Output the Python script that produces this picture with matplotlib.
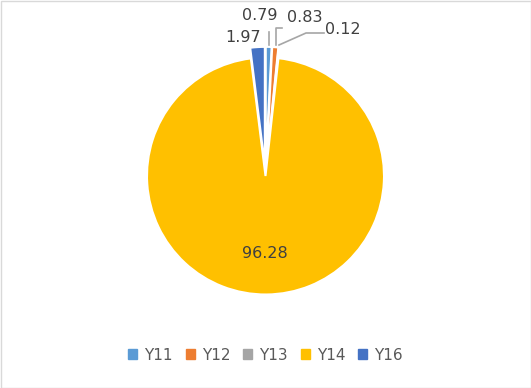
import matplotlib.pyplot as plt
from matplotlib.patches import Rectangle
import numpy as np

categories = ["Y11", "Y12", "Y13", "Y14", "Y16"]
values = [0.79, 0.83, 0.12, 96.28, 1.97]
colors = ["#5B9BD5", "#ED7D31", "#A5A5A5", "#FFC000", "#4472C4"]
explode = [0.09, 0.09, 0.09, 0.0, 0.09]

W, H = 531, 388
CX, CY, R = 265.5, H - 176, 118.5

fig = plt.figure(figsize=(W / 100, H / 100), dpi=100)
fig.patch.set_facecolor("white")
ax = fig.add_axes([0, 0, 1, 1])

# matplotlib's explode is in data units, so scale by the radius
wedges, _ = ax.pie(values, colors=colors, startangle=90, counterclock=False,
                   center=(CX, CY), radius=R, explode=[e * R for e in explode],
                   wedgeprops=dict(edgecolor="white", linewidth=1.5),
                   frame=True)
ax.set_xlim(0, W)
ax.set_ylim(0, H)
ax.axis("off")

lbl_color = "#404040"
fs = 11.5

# big slice label inside
ax.text(265, H - 253, f"{values[3]:.2f}", color=lbl_color, fontsize=fs,
        ha="center", va="center")
# Y16 label, no leader
ax.text(243, H - 37, f"{values[4]:.2f}", color=lbl_color, fontsize=fs,
        ha="center", va="center")

# small slices with leader lines (pixel coords, y from top)
lead = "#A6A6A6"
ax.text(260, H - 16, f"{values[0]:.2f}", color=lbl_color, fontsize=fs,
        ha="center", va="center")
ax.plot([269, 269], [H - 32, H - 45], color=lead, lw=1.2)

ax.text(305, H - 17, f"{values[1]:.2f}", color=lbl_color, fontsize=fs,
        ha="center", va="center")
ax.plot([282, 276, 276], [H - 28, H - 28, H - 45], color=lead, lw=1.2)

ax.text(343, H - 30, f"{values[2]:.2f}", color=lbl_color, fontsize=fs,
        ha="center", va="center")
ax.plot([324, 306, 279], [H - 33, H - 33, H - 45], color=lead, lw=1.2)

handles = [Rectangle((0, 0), 1, 1, color=c) for c in colors]
fig.legend(handles, categories, loc="center", bbox_to_anchor=(0.5, 1 - 355 / H),
           ncol=5, frameon=False, fontsize=11, handlelength=0.6,
           handleheight=0.6, handletextpad=0.45, columnspacing=0.85,
           labelcolor="#595959")

fig.add_artist(Rectangle((0.5 / W, 0.5 / H), 1 - 1 / W, 1 - 1 / H,
                         transform=fig.transFigure, fill=False,
                         edgecolor="#D9D9D9", lw=1))

fig.savefig("out.png", dpi=100, facecolor="white")
